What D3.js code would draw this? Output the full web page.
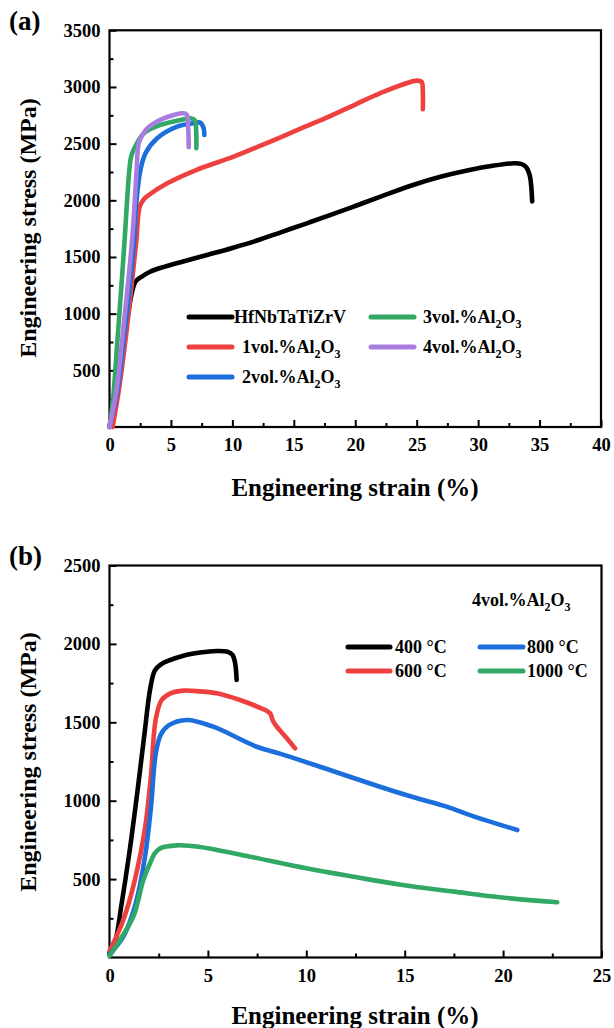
<!DOCTYPE html>
<html>
<head>
<meta charset="utf-8">
<script src="https://cdn.jsdelivr.net/npm/d3@7"></script>
<style>
  body { margin: 0; background: white; }
  svg text { font-family: "Liberation Serif", "Times New Roman", serif; font-weight: bold; fill: black; }
</style>
</head>
<body>
<svg width="614" height="1028"></svg>
<script>
// (a) room temperature curves, strain in %, stress in MPa
var hfStrain = [0, 1.0, 2.1, 2.6, 3.3, 4.5, 6, 8, 10, 12, 14, 16, 18, 20, 22, 24.7, 27, 29.3, 31.2, 32.9, 33.5, 33.9, 34.2, 34.4];
var hfStress = [0, 610, 1280, 1325, 1370, 1415, 1460, 1520, 1580, 1645, 1720, 1795, 1871, 1950, 2030, 2135, 2210, 2268, 2305, 2327, 2322, 2295, 2220, 1990];

var v1Strain = [0.25, 0.76, 1.3, 1.8, 2.19, 2.46, 2.8, 3.2, 4.7, 7, 10.1, 12.8, 15.5, 18, 20, 22, 25, 25.4, 25.5, 25.5];
var v1Stress = [0, 326, 768, 1250, 1650, 1944, 2010, 2047, 2150, 2265, 2385, 2505, 2630, 2745, 2845, 2944, 3056, 3045, 2950, 2803];

var v2Strain = [0, 0.65, 1.15, 1.6, 2.0, 2.2, 2.52, 2.93, 3.88, 5.5, 6.85, 7.4, 7.65, 7.72];
var v2Stress = [0, 326, 768, 1200, 1650, 2003, 2268, 2415, 2547, 2650, 2680, 2685, 2640, 2577];

var v3Strain = [0, 0.3, 0.65, 1.2, 1.6, 1.75, 1.98, 2.79, 4.15, 5.77, 6.59, 6.95, 7.05, 7.07];
var v3Stress = [0, 260, 768, 1600, 2250, 2380, 2450, 2591, 2665, 2709, 2724, 2705, 2620, 2459];

var v4Strain = [0, 0.57, 1.03, 1.84, 2.2, 2.38, 2.7, 3.07, 4.41, 6.04, 6.3, 6.4, 6.45];
var v4Stress = [0, 326, 768, 1650, 2250, 2503, 2580, 2635, 2724, 2768, 2755, 2650, 2468];

// (b) 4vol.% Al2O3 at elevated temperature
var t400Strain = [0, 0.3, 0.6, 1.0, 1.4, 1.8, 2.05, 2.3, 2.6, 3.0, 3.75, 4.6, 5.45, 6.0, 6.25, 6.38, 6.46];
var t400Stress = [30, 110, 330, 660, 1040, 1450, 1700, 1830, 1868, 1893, 1925, 1945, 1955, 1950, 1930, 1880, 1770];

var t600Strain = [0, 0.7, 1.3, 1.8, 2.1, 2.35, 2.65, 3.1, 3.75, 4.6, 5.45, 6.63, 7.5, 8.16, 8.3, 8.5, 9.0, 9.43];
var t600Stress = [40, 239, 500, 820, 1150, 1520, 1642, 1685, 1702, 1697, 1685, 1642, 1600, 1557, 1510, 1472, 1400, 1334];

var t800Strain = [0, 0.7, 1.3, 1.8, 2.1, 2.35, 2.6, 3.0, 3.92, 5.27, 7.48, 8.66, 10.86, 13.74, 15.5, 17.13, 18.5, 20.72];
var t800Stress = [20, 133, 330, 640, 950, 1300, 1420, 1480, 1515, 1472, 1344, 1300, 1210, 1089, 1020, 962, 900, 813];

var t1000Strain = [0, 0.53, 1.21, 1.72, 2.06, 2.31, 2.57, 3.41, 4.6, 7.14, 10.0, 12.4, 14.9, 17.5, 19.84, 22.75];
var t1000Stress = [10, 112, 260, 494, 601, 665, 696, 715, 705, 643, 569, 515, 462, 420, 384, 352];

var namesA = ["HfNbTaTiZrV", "1vol.%Al2O3", "2vol.%Al2O3", "3vol.%Al2O3", "4vol.%Al2O3"];
var namesB = ["400 \u00b0C", "600 \u00b0C", "800 \u00b0C", "1000 \u00b0C"];

var ticksAx = [0, 5, 10, 15, 20, 25, 30, 35, 40];
var ticksAy = [500, 1000, 1500, 2000, 2500, 3000, 3500];
var ticksBx = [0, 5, 10, 15, 20, 25];
var ticksBy = [500, 1000, 1500, 2000, 2500];

var black = "#000000";
var red = "#ef4040";
var blue = "#1c6edc";
var green = "#31a864";
var purple = "#a97ddf";

var svg = d3.select("svg");

var zip = function (xs, ys) {
  return xs.map(function (x, i) { return [x, ys[i]]; });
};

// writes "Al2O3" style names with small lowered digits
var chem = function (t, str) {
  var parts = str.split(/(Al2O3)/);
  parts.forEach(function (p) {
    if (p === "Al2O3") {
      t.append("tspan").text("Al");
      t.append("tspan").attr("font-size", 12).attr("dy", 5).text("2");
      t.append("tspan").attr("dy", -5).text("O");
      t.append("tspan").attr("font-size", 12).attr("dy", 5).text("3");
      t.append("tspan").attr("dy", -5).text("");
    } else if (p !== "") {
      t.append("tspan").text(p);
    }
  });
};

var panel = function (x, y, xt, yt, xminor, yminor) {
  var g = svg.append("g");
  var x0 = x.range()[0], x1 = x.range()[1];
  var y0 = y.range()[0], y1 = y.range()[1];

  g.append("g")
    .attr("transform", "translate(0," + y0 + ")")
    .call(d3.axisBottom(x).tickValues(xminor).tickSize(-4).tickFormat(""));
  g.append("g")
    .attr("transform", "translate(" + x0 + ",0)")
    .call(d3.axisLeft(y).tickValues(yminor).tickSize(-4).tickFormat(""));

  g.append("g")
    .attr("transform", "translate(0," + y0 + ")")
    .call(d3.axisBottom(x).tickValues(xt).tickFormat(d3.format("d"))
      .tickSizeInner(-7).tickSizeOuter(0).tickPadding(11));
  g.append("g")
    .attr("transform", "translate(" + x0 + ",0)")
    .call(d3.axisLeft(y).tickValues(yt).tickFormat(d3.format("d"))
      .tickSizeInner(-7).tickSizeOuter(0).tickPadding(9));

  g.selectAll(".domain").remove();
  g.selectAll(".tick line").attr("stroke", "black").attr("stroke-width", 2);
  g.selectAll(".tick text")
    .attr("font-size", 18.5)
    .attr("font-family", "Liberation Serif")
    .attr("font-weight", "bold");

  g.append("rect")
    .attr("x", x0).attr("y", y1)
    .attr("width", x1 - x0).attr("height", y0 - y1)
    .attr("fill", "none")
    .attr("stroke", "black")
    .attr("stroke-width", 2.2);
  return g;
};

var curves = function (g, x, y, list) {
  var line = d3.line()
    .x(function (d) { return x(d[0]); })
    .y(function (d) { return y(d[1]); })
    .curve(d3.curveCatmullRom.alpha(0.5));
  list.forEach(function (c) {
    g.append("path")
      .attr("d", line(c.pts))
      .attr("fill", "none")
      .attr("stroke", c.color)
      .attr("stroke-width", 4.6)
      .attr("stroke-linecap", "round")
      .attr("stroke-linejoin", "round");
  });
};

var legendItem = function (g, x, y, len, color, tx, label) {
  g.append("line")
    .attr("x1", x).attr("x2", x + len)
    .attr("y1", y).attr("y2", y)
    .attr("stroke", color)
    .attr("stroke-width", 5)
    .attr("stroke-linecap", "round");
  var t = g.append("text")
    .attr("x", tx).attr("y", y + 6)
    .attr("font-size", 18);
  chem(t, label);
};

// ---------- (a) ----------
var xA = d3.scaleLinear().domain([0, 40]).range([109.5, 601]);
var yA = d3.scaleLinear().domain([0, 3500]).range([427, 30.3]);
var gA = panel(xA, yA, ticksAx, ticksAy,
  d3.range(2.5, 40, 5), d3.range(250, 3500, 500));

curves(gA, xA, yA, [
  {pts: zip(hfStrain, hfStress), color: black},
  {pts: zip(v1Strain, v1Stress), color: red},
  {pts: zip(v2Strain, v2Stress), color: blue},
  {pts: zip(v3Strain, v3Stress), color: green},
  {pts: zip(v4Strain, v4Stress), color: purple}
]);

legendItem(gA, 189, 317, 43, black, 234, namesA[0]);
legendItem(gA, 189, 347, 43, red, 242, namesA[1]);
legendItem(gA, 189, 377, 43, blue, 242, namesA[2]);
legendItem(gA, 371, 317, 43, green, 423, namesA[3]);
legendItem(gA, 371, 347, 43, purple, 423, namesA[4]);

svg.append("text").attr("x", 9).attr("y", 30).attr("font-size", 27).text("(a)");
svg.append("text")
  .attr("x", 355).attr("y", 496)
  .attr("text-anchor", "middle")
  .attr("font-size", 25)
  .text("Engineering strain (%)");
svg.append("text")
  .attr("transform", "translate(36,228) rotate(-90)")
  .attr("text-anchor", "middle")
  .attr("font-size", 24)
  .text("Engineering stress (MPa)");

// ---------- (b) ----------
var xB = d3.scaleLinear().domain([0, 25]).range([109.5, 601.5]);
var yB = d3.scaleLinear().domain([0, 2500]).range([957.5, 565.5]);
var gB = panel(xB, yB, ticksBx, ticksBy,
  d3.range(2.5, 25, 5), d3.range(250, 2500, 500));

curves(gB, xB, yB, [
  {pts: zip(t400Strain, t400Stress), color: black},
  {pts: zip(t600Strain, t600Stress), color: red},
  {pts: zip(t800Strain, t800Stress), color: blue},
  {pts: zip(t1000Strain, t1000Stress), color: green}
]);

legendItem(gB, 348, 647, 42, black, 395, namesB[0]);
legendItem(gB, 348, 671, 42, red, 395, namesB[1]);
legendItem(gB, 480, 647, 43, blue, 527, namesB[2]);
legendItem(gB, 480, 671, 43, green, 527, namesB[3]);

var note = gB.append("text").attr("x", 472).attr("y", 606).attr("font-size", 18);
chem(note, namesA[4]);

svg.append("text").attr("x", 9).attr("y", 565).attr("font-size", 27).text("(b)");
svg.append("text")
  .attr("x", 355).attr("y", 1024)
  .attr("text-anchor", "middle")
  .attr("font-size", 25)
  .text("Engineering strain (%)");
svg.append("text")
  .attr("transform", "translate(36,762) rotate(-90)")
  .attr("text-anchor", "middle")
  .attr("font-size", 24)
  .text("Engineering stress (MPa)");
</script>
</body>
</html>
